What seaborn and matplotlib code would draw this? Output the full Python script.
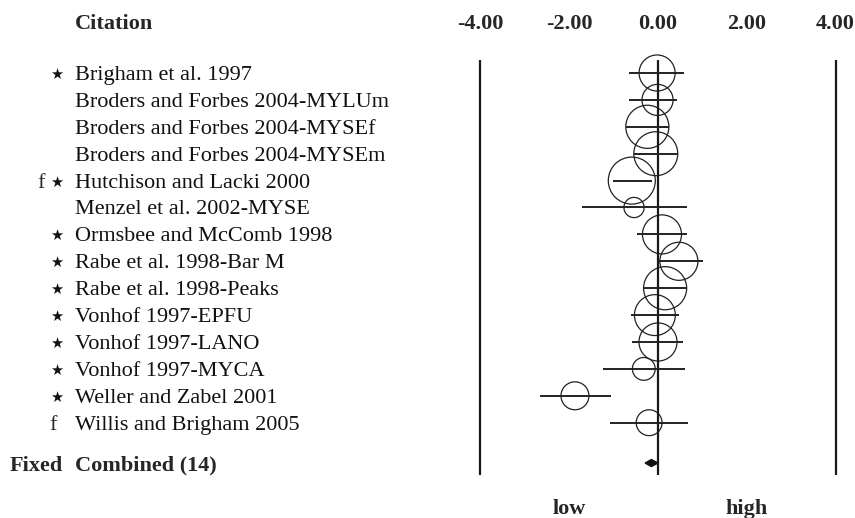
import matplotlib
matplotlib.use("Agg")
import matplotlib.pyplot as plt
import matplotlib.transforms as mtransforms
import seaborn as sns
import numpy as np

# study rows, top to bottom
studies = [
    "Brigham et al. 1997",
    "Broders and Forbes 2004-MYLUm",
    "Broders and Forbes 2004-MYSEf",
    "Broders and Forbes 2004-MYSEm",
    "Hutchison and Lacki 2000",
    "Menzel et al. 2002-MYSE",
    "Ormsbee and McComb 1998",
    "Rabe et al. 1998-Bar M",
    "Rabe et al. 1998-Peaks",
    "Vonhof 1997-EPFU",
    "Vonhof 1997-LANO",
    "Vonhof 1997-MYCA",
    "Weller and Zabel 2001",
    "Willis and Brigham 2005",
]
flag_f = [False, False, False, False, True, False, False, False, False, False, False, False, False, True]
flag_star = [True, False, False, False, True, False, True, True, True, True, True, True, True, False]

effects = [-0.02, -0.01, -0.24, -0.05, -0.59, -0.54, 0.09, 0.47, 0.16, -0.07, 0.00, -0.32, -1.87, -0.20]
ci_low = [-0.65, -0.65, -0.72, -0.54, -1.01, -1.71, -0.47, 0.00, -0.33, -0.61, -0.58, -1.23, -2.66, -1.08]
ci_high = [0.59, 0.43, 0.25, 0.45, -0.13, 0.65, 0.65, 1.01, 0.65, 0.47, 0.56, 0.61, -1.06, 0.68]
weights = [7.0, 5.2, 10.0, 10.4, 11.9, 2.2, 8.2, 7.8, 10.0, 9.0, 7.8, 2.8, 4.2, 3.6]  # relative weight (%)

combined_label = "Combined (14)"
combined_est = -0.15
combined_low = -0.29
combined_high = 0.00

axis_ticks = [-4.0, -2.0, 0.0, 2.0, 4.0]

sns.set_theme(style="white")
plt.rcParams["font.family"] = ["Liberation Serif", "DejaVu Serif"]

fig = plt.figure(figsize=(8.55, 5.18), dpi=100)
ax = fig.add_axes([0, 0, 1, 1])
ax.set_xlim(-658 / 44.4, (855 - 658) / 44.4)
ax.set_ylim((518 - 73) / 26.9, -73 / 26.9)
ax.axis("off")

rows = np.arange(len(studies))
comb_row = len(studies) + 0.5
fs = 16
va = "center_baseline"

# reference lines at -4, 0, 4
ax.vlines([axis_ticks[0], 0, axis_ticks[-1]], -0.48, comb_row + 0.44, color="#1a1a1a", lw=1.6)

# confidence intervals
ax.hlines(rows, ci_low, ci_high, color="#222222", lw=1.4)

# weighted circles
sns.scatterplot(x=effects, y=rows, size=weights, sizes=(0, 9630), size_norm=(0, 100),
                color="none", edgecolor="#222222", linewidth=0.9, legend=False, ax=ax)
ax.collections[-1].set_facecolor("none")

# combined diamond
h = 0.13
ax.fill([combined_low, combined_est, combined_high, combined_est],
        [comb_row, comb_row - h, comb_row, comb_row + h], color="#111111")

trans = mtransforms.blended_transform_factory(fig.transFigure, ax.transData)

# header and axis labels
ax.text(75 / 855, -1.9, "Citation", transform=trans, fontsize=fs, fontweight="bold", va=va)
for t in axis_ticks:
    ax.text(t, -1.9, f"{t:.2f}", fontsize=fs, fontweight="bold", ha="center", va=va)

# study labels with flags
for i, name in enumerate(studies):
    ax.text(75 / 855, i, name, transform=trans, fontsize=fs, va=va, color="#111111")
    if flag_star[i]:
        ax.text(57 / 855, i + 0.05, "★", transform=trans, fontsize=10.5, family="DejaVu Sans",
                ha="center", va="center", color="#111111")
    if flag_f[i]:
        fx = 41 if flag_star[i] else 53
        ax.text(fx / 855, i, "f", transform=trans, fontsize=fs, ha="center", va=va)

ax.text(10 / 855, comb_row, "Fixed", transform=trans, fontsize=fs, fontweight="bold", va=va)
ax.text(75 / 855, comb_row, combined_label, transform=trans, fontsize=fs, fontweight="bold", va=va)

ax.text(-2.0, 16.13, "low", fontsize=fs, fontweight="bold", ha="center", va=va)
ax.text(2.0, 16.13, "high", fontsize=fs, fontweight="bold", ha="center", va=va)

fig.savefig("out.png", dpi=100, facecolor="white")
